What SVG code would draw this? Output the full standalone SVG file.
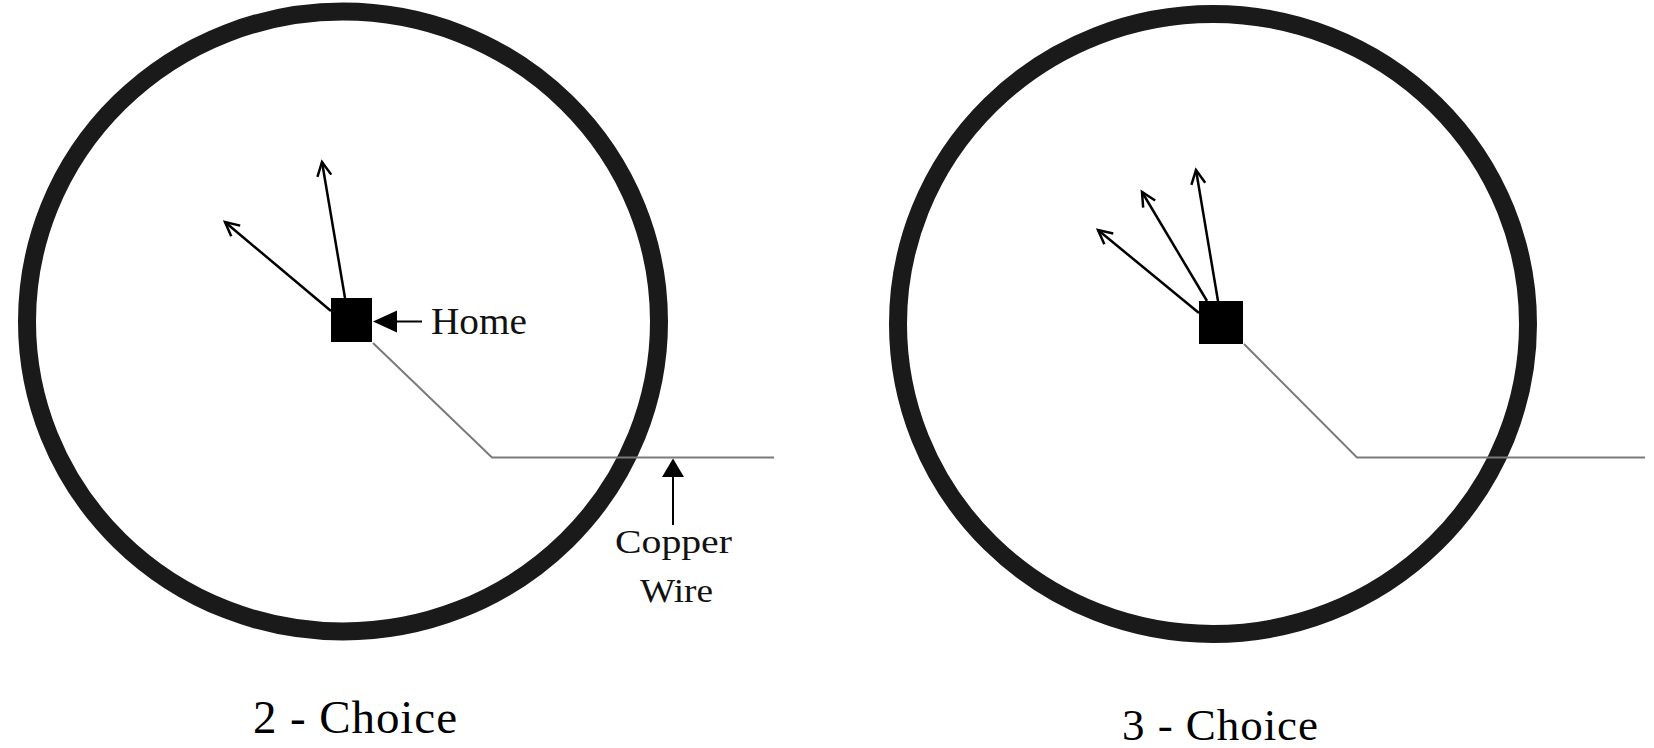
<svg xmlns="http://www.w3.org/2000/svg" width="1654" height="748" viewBox="0 0 1654 748">
<style>
.ring{fill:none;stroke:#1a1a1a;stroke-width:18}
.home{fill:#000}
.arrow{stroke:#000;stroke-width:2.5;fill:none;marker-end:url(#open)}
.wire{stroke:#7a7a7a;stroke-width:2;fill:none}
.lbl{font-family:"Liberation Serif","Times New Roman",serif;fill:#111}
.title{font-family:"Liberation Serif","Times New Roman",serif;fill:#000}
.ptr{stroke:#000;stroke-width:2;fill:none}
</style>
<defs>
<marker id="open" markerUnits="userSpaceOnUse" markerWidth="30" markerHeight="30" refX="0" refY="0" viewBox="-20 -15 30 30" orient="auto" overflow="visible">
<path d="M-14,-7 L0,0 L-14,7" fill="none" stroke="#000" stroke-width="2.5"/>
</marker>
</defs>
<rect width="1654" height="748" fill="#fff"/>
<g id="ring-left"><ellipse class="ring" cx="343" cy="321.5" rx="316" ry="310"/></g>
<g id="ring-right"><ellipse class="ring" cx="1213" cy="324" rx="315" ry="310"/></g>
<g id="connectors">
<line class="arrow" x1="345" y1="298" x2="322" y2="162"/>
<line class="arrow" x1="331" y1="311" x2="225" y2="222"/>
<line class="arrow" x1="1218" y1="301" x2="1196" y2="170"/>
<line class="arrow" x1="1207" y1="301" x2="1142" y2="192"/>
<line class="arrow" x1="1199" y1="313" x2="1098" y2="230"/>
<polyline class="wire" points="373,343 492,457.5 774,457.5"/>
<polyline class="wire" points="1244,344 1357,457.5 1645,457.5"/>
<line class="ptr" x1="396" y1="321.5" x2="422" y2="321.5"/>
<polygon points="373,321.5 397,310.5 397,332.5" fill="#000"/>
<line class="ptr" x1="673" y1="476" x2="673" y2="525"/>
<polygon points="673,458.5 662,477 684,477" fill="#000"/>
</g>
<g id="home-left"><rect class="home" x="331" y="298" width="41" height="44"/></g>
<g id="home-right"><rect class="home" x="1199" y="301" width="44" height="43"/></g>
<g id="label-home"><text class="lbl" x="431" y="334" font-size="38" textLength="96" lengthAdjust="spacingAndGlyphs">Home</text></g>
<g id="label-copper">
<text class="lbl" x="615" y="553" font-size="33" textLength="117" lengthAdjust="spacingAndGlyphs">Copper</text>
<text class="lbl" x="640" y="602" font-size="33" textLength="73" lengthAdjust="spacingAndGlyphs">Wire</text>
</g>
<g id="title-left"><text class="title" x="253" y="733" font-size="47" textLength="204" lengthAdjust="spacing">2 - Choice</text></g>
<g id="title-right"><text class="title" x="1122" y="740" font-size="45" textLength="196" lengthAdjust="spacing">3 - Choice</text></g>
</svg>
